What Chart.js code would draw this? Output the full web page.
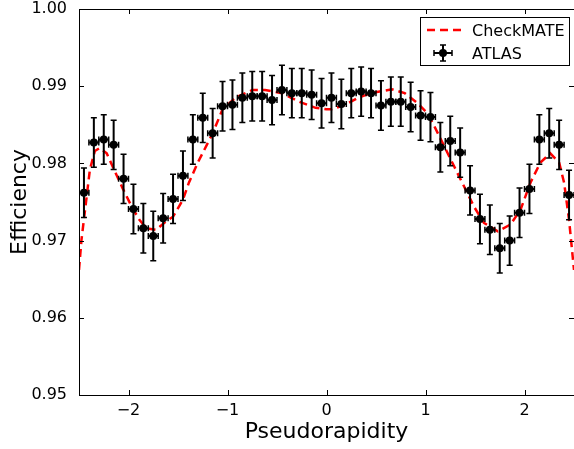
<!DOCTYPE html>
<html>
<head>
<meta charset="utf-8">
<script src="https://cdn.jsdelivr.net/npm/chart.js@4.4.1/dist/chart.umd.min.js"></script>
<style>
  html, body { margin: 0; padding: 0; background: #fff; overflow: hidden; }
  #wrap { width: 578px; height: 449px; }
</style>
</head>
<body>
<div id="wrap"><canvas id="effChart" width="578" height="449"></canvas></div>
<script>
// ATLAS measurement, one bin per 0.1 in pseudorapidity
const etaBins = [
  -2.45, -2.35, -2.25, -2.15, -2.05, -1.95, -1.85, -1.75, -1.65, -1.55,
  -1.45, -1.35, -1.25, -1.15, -1.05, -0.95, -0.85, -0.75, -0.65, -0.55,
  -0.45, -0.35, -0.25, -0.15, -0.05, 0.05, 0.15, 0.25, 0.35, 0.45,
  0.55, 0.65, 0.75, 0.85, 0.95, 1.05, 1.15, 1.25, 1.35, 1.45,
  1.55, 1.65, 1.75, 1.85, 1.95, 2.05, 2.15, 2.25, 2.35, 2.45,
];
const atlasEff = [
  0.9762, 0.9827, 0.9831, 0.9824, 0.9780, 0.9741, 0.9716, 0.9706, 0.9729, 0.9754,
  0.9784, 0.9831, 0.9859, 0.9839, 0.9874, 0.9876, 0.9885, 0.9887, 0.9887, 0.9882,
  0.9895, 0.9891, 0.9891, 0.9889, 0.9878, 0.9885, 0.9877, 0.9891, 0.9893, 0.9891,
  0.9875, 0.9880, 0.9880, 0.9873, 0.9862, 0.9860, 0.9821, 0.9829, 0.9814, 0.9765,
  0.9728, 0.9714, 0.9690, 0.9700, 0.9736, 0.9767, 0.9831, 0.9839, 0.9824, 0.9759,
];
const atlasErr = [
  0.0032, 0.0032, 0.0032, 0.0032, 0.0032, 0.0032, 0.0032, 0.0032, 0.0032, 0.0032,
  0.0032, 0.0032, 0.0032, 0.0032, 0.0032, 0.0032, 0.0032, 0.0032, 0.0032, 0.0032,
  0.0032, 0.0032, 0.0032, 0.0032, 0.0032, 0.0032, 0.0032, 0.0032, 0.0032, 0.0032,
  0.0032, 0.0032, 0.0032, 0.0032, 0.0032, 0.0032, 0.0032, 0.0032, 0.0032, 0.0032,
  0.0032, 0.0032, 0.0032, 0.0032, 0.0032, 0.0032, 0.0032, 0.0032, 0.0032, 0.0032,
];
const etaHalfWidth = 0.05;

// CheckMATE curve
const curveEta = [
  -2.50, -2.475, -2.39, -2.34, -2.29, -2.22, -2.16, -2.06, -1.96, -1.89,
  -1.82, -1.72, -1.62, -1.55, -1.45, -1.39, -1.30, -1.15, -1.05, -0.92,
  -0.75, -0.62, -0.45, -0.28, -0.11, 0.00, 0.05, 0.19, 0.32, 0.45,
  0.66, 0.79, 0.92, 1.02, 1.09, 1.19, 1.29, 1.39, 1.49, 1.59,
  1.73, 1.86, 1.96, 2.06, 2.16, 2.26, 2.35, 2.40, 2.45, 2.50,
];
const curveEff = [
  0.9662, 0.9701, 0.9792, 0.9816, 0.9820, 0.9813, 0.9796, 0.9768, 0.9742, 0.9727,
  0.9716, 0.9714, 0.9725, 0.9731, 0.9753, 0.9775, 0.9801, 0.9839, 0.9870, 0.9885,
  0.9895, 0.9895, 0.9891, 0.9880, 0.9872, 0.9870, 0.9870, 0.9876, 0.9885, 0.9891,
  0.9896, 0.9891, 0.9878, 0.9865, 0.9848, 0.9822, 0.9796, 0.9770, 0.9744, 0.9723,
  0.9712, 0.9721, 0.9740, 0.9775, 0.9801, 0.9813, 0.9801, 0.9775, 0.9727, 0.9662,
];

const xTicks = [-2, -1, 0, 1, 2];
const yTicks = [0.95, 0.96, 0.97, 0.98, 0.99, 1.00];

const FONT = "'DejaVu Sans', sans-serif";

function drawErrorBar(ctx, px, py, top, bot, l, r, cap) {
  ctx.lineWidth = 2;
  ctx.beginPath();
  ctx.moveTo(px, top); ctx.lineTo(px, bot);
  ctx.moveTo(l, py); ctx.lineTo(r, py);
  ctx.stroke();
  ctx.lineWidth = 1.5;
  ctx.beginPath();
  ctx.moveTo(px - cap, top); ctx.lineTo(px + cap, top);
  ctx.moveTo(px - cap, bot); ctx.lineTo(px + cap, bot);
  ctx.moveTo(l, py - cap); ctx.lineTo(l, py + cap);
  ctx.moveTo(r, py - cap); ctx.lineTo(r, py + cap);
  ctx.stroke();
}

const errorBars = {
  id: 'errorBars',
  beforeDatasetDraw(chart, args) {
    if (args.index !== 0) return;
    const { ctx, chartArea: a, scales: { x, y } } = chart;
    ctx.save();
    ctx.beginPath();
    ctx.rect(a.left, a.top, a.right - a.left, a.bottom - a.top);
    ctx.clip();
    ctx.strokeStyle = '#000';
    etaBins.forEach((eta, i) => {
      drawErrorBar(ctx,
        x.getPixelForValue(eta), y.getPixelForValue(atlasEff[i]),
        y.getPixelForValue(atlasEff[i] + atlasErr[i]),
        y.getPixelForValue(atlasEff[i] - atlasErr[i]),
        x.getPixelForValue(eta - etaHalfWidth),
        x.getPixelForValue(eta + etaHalfWidth), 3);
    });
    ctx.restore();
  },
};

// frame with inward ticks on all four sides, plus the legend box
const frameAndLegend = {
  id: 'frameAndLegend',
  afterDraw(chart) {
    const { ctx, chartArea: a, scales: { x, y } } = chart;
    const len = 5;
    ctx.save();
    ctx.strokeStyle = '#000';
    ctx.lineWidth = 1;
    ctx.strokeRect(a.left + 0.5, a.top + 0.5, a.right - a.left, a.bottom - a.top);
    ctx.beginPath();
    xTicks.forEach(v => {
      const px = Math.round(x.getPixelForValue(v)) + 0.5;
      ctx.moveTo(px, a.bottom); ctx.lineTo(px, a.bottom - len);
      ctx.moveTo(px, a.top); ctx.lineTo(px, a.top + len);
    });
    yTicks.forEach(v => {
      const py = Math.round(y.getPixelForValue(v)) + 0.5;
      ctx.moveTo(a.left, py); ctx.lineTo(a.left + len, py);
      ctx.moveTo(a.right, py); ctx.lineTo(a.right - len, py);
    });
    ctx.stroke();

    // legend
    const bx = 420.5, by = 17.5, bw = 149, bh = 48;
    ctx.fillStyle = '#fff';
    ctx.fillRect(bx, by, bw, bh);
    ctx.strokeRect(bx, by, bw, bh);
    ctx.strokeStyle = '#ff0000';
    ctx.lineWidth = 2.5;
    ctx.setLineDash([8, 5]);
    ctx.beginPath();
    ctx.moveTo(427, 30); ctx.lineTo(461, 30);
    ctx.stroke();
    ctx.setLineDash([]);
    ctx.strokeStyle = '#000';
    drawErrorBar(ctx, 443, 53, 45, 61, 434, 452, 3);
    ctx.fillStyle = '#000';
    ctx.beginPath();
    ctx.arc(443, 53, 4, 0, Math.PI * 2);
    ctx.fill();
    ctx.font = '16px ' + FONT;
    ctx.textBaseline = 'alphabetic';
    ctx.textAlign = 'left';
    ctx.fillText('CheckMATE', 472, 36);
    ctx.fillText('ATLAS', 472, 59);
    ctx.restore();
  },
};

new Chart(document.getElementById('effChart'), {
  type: 'scatter',
  data: {
    datasets: [
      {
        label: 'ATLAS',
        data: etaBins.map((eta, i) => ({ x: eta, y: atlasEff[i] })),
        backgroundColor: '#000',
        borderWidth: 0,
        pointRadius: 4,
      },
      {
        label: 'CheckMATE',
        data: curveEta.map((eta, i) => ({ x: eta, y: curveEff[i] })),
        showLine: true,
        borderColor: '#ff0000',
        borderWidth: 2.5,
        borderDash: [8, 5],
        pointRadius: 0,
        tension: 0,
      },
    ],
  },
  options: {
    responsive: false,
    animation: false,
    events: [],
    layout: {
      padding: { top: 9, right: 1, left: 0, bottom: 0 },
    },
    scales: {
      x: {
        type: 'linear',
        min: -2.5,
        max: 2.5,
        afterBuildTicks: s => { s.ticks = xTicks.map(v => ({ value: v })); },
        afterFit: s => { s.height = 54; s.paddingLeft = 0; s.paddingRight = 0; },
        grid: { display: false, drawTicks: false },
        border: { display: false },
        ticks: {
          color: '#000',
          font: { family: FONT, size: 16 },
          padding: 6,
          maxRotation: 0,
          callback: v => (v < 0 ? '\u2212' + Math.abs(v) : String(v)),
        },
        title: {
          display: true,
          text: 'Pseudorapidity',
          color: '#000',
          font: { family: FONT, size: 22 },
          padding: { top: 0, bottom: 4 },
        },
      },
      y: {
        type: 'linear',
        min: 0.95,
        max: 1.0,
        afterBuildTicks: s => { s.ticks = yTicks.map(v => ({ value: v })); },
        afterFit: s => { s.width = 79; s.paddingTop = 0; s.paddingBottom = 0; },
        grid: { display: false },
        border: { display: false },
        ticks: {
          color: '#000',
          font: { family: FONT, size: 16 },
          padding: 4,
          callback: v => v.toFixed(2),
        },
        title: {
          display: true,
          text: 'Efficiency',
          color: '#000',
          font: { family: FONT, size: 22 },
          padding: { top: 7, bottom: 0 },
        },
      },
    },
    plugins: {
      legend: { display: false },
      tooltip: { enabled: false },
    },
  },
  plugins: [errorBars, frameAndLegend],
});
</script>
</body>
</html>
